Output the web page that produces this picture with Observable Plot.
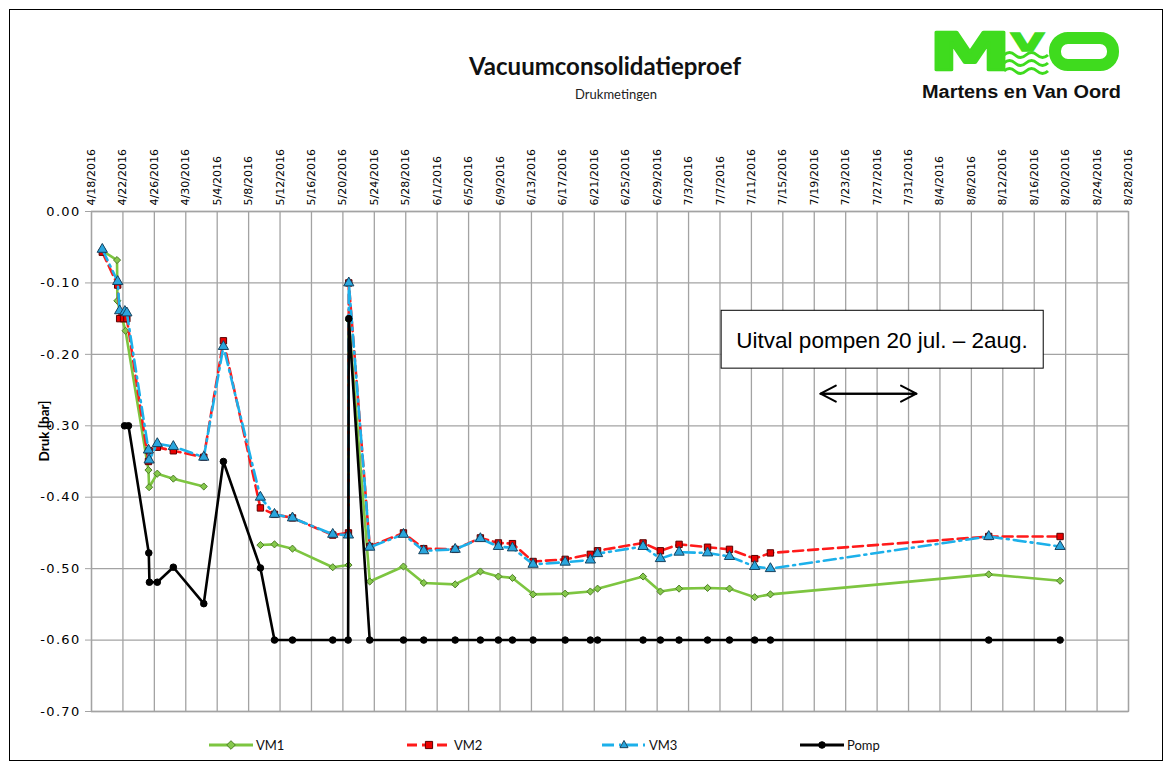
<!DOCTYPE html>
<html>
<head>
<meta charset="utf-8">
<script src="https://cdn.jsdelivr.net/npm/d3@7"></script>
<script src="https://cdn.jsdelivr.net/npm/@observablehq/plot@0.6"></script>
<style>
  body { margin: 0; background: #fff; }
  #wrap { position: relative; width: 1172px; height: 765px; background: #fff; overflow: hidden; }
  #border { position: absolute; left: 9px; top: 9px; width: 1154px; height: 752px; border: 1.5px solid #000; box-sizing: border-box; pointer-events: none; }
  #chart { position: absolute; left: 0; top: 0; }
  .abs { position: absolute; white-space: nowrap; }
  #title { left: 405px; width: 400px; top: 51px; text-align: center; font: bold 24px Lato, "Open Sans", sans-serif; color: #111; }
  #subtitle { left: 516px; width: 200px; top: 86px; text-align: center; font: 13px Lato, "Open Sans", sans-serif; color: #222; }
  #legend { left: 0; top: 735px; width: 1172px; height: 20px; font: 13px Lato, "Open Sans", sans-serif; color: #111; }
  .lg { position: absolute; top: 0; height: 20px; display: flex; align-items: center; }
  .lg svg { display: block; }
  .lg span { margin-left: 3px; }
  g[aria-label="y-axis tick label"] text { letter-spacing: 1.3px; }
</style>
</head>
<body>
<div id="wrap">
  <div id="chart"></div>
  <div id="title" class="abs">Vacuumconsolidatieproef</div>
  <div id="subtitle" class="abs">Drukmetingen</div>
  <svg class="abs" style="left:900px;top:20px" width="250" height="90" viewBox="0 0 250 90">
    <text x="29" y="50" font-family="DejaVu Sans" font-weight="bold" font-size="51" textLength="82" lengthAdjust="spacingAndGlyphs" fill="#3fdb1e" stroke="#3fdb1e" stroke-width="2.5" stroke-linejoin="round">M</text>
    <text x="111" y="31" font-family="DejaVu Sans" font-weight="bold" font-size="24" textLength="33" lengthAdjust="spacingAndGlyphs" fill="#3fdb1e" stroke="#3fdb1e" stroke-width="1.5">V</text>
    <path d="M104 35 q5.5 -5 11 0 t11 0 t11 0 t11 0" fill="none" stroke="#3fdb1e" stroke-width="3"/>
    <path d="M104 43 q5.5 -5 11 0 t11 0 t11 0 t11 0" fill="none" stroke="#3fdb1e" stroke-width="3"/>
    <path d="M104 51 q5.5 -5 11 0 t11 0 t11 0 t11 0" fill="none" stroke="#3fdb1e" stroke-width="3"/>
    <rect x="155" y="18" width="58" height="27" rx="13" ry="13" fill="none" stroke="#3fdb1e" stroke-width="12"/>
    <text x="22" y="78" font-family="Liberation Sans, Arial" font-weight="bold" font-size="18" textLength="199" lengthAdjust="spacingAndGlyphs" fill="#111">Martens en Van Oord</text>
  </svg>
  <div id="legend" class="abs"></div>
  <div id="border"></div>
</div>
<script>
// ---------- data ----------
const xTickDates = ["2016-04-18","2016-04-22","2016-04-26","2016-04-30","2016-05-04","2016-05-08","2016-05-12","2016-05-16","2016-05-20","2016-05-24","2016-05-28","2016-06-01","2016-06-05","2016-06-09","2016-06-13","2016-06-17","2016-06-21","2016-06-25","2016-06-29","2016-07-03","2016-07-07","2016-07-11","2016-07-15","2016-07-19","2016-07-23","2016-07-27","2016-07-31","2016-08-04","2016-08-08","2016-08-12","2016-08-16","2016-08-20","2016-08-24","2016-08-28"];
const yTicks = [0, -0.1, -0.2, -0.3, -0.4, -0.5, -0.6, -0.7];
const yLabel = "Druk [bar]";

const seriesNames = ["VM1", "VM2", "VM3", "Pomp"];

const vm1Dates = ["2016-04-19 09:00","2016-04-21 06:00","2016-04-21 07:00","2016-04-22 08:00","2016-04-25 06:00","2016-04-25 08:00","2016-04-26 09:00","2016-04-28 10:00","2016-05-02 07:00","2016-05-04 19:00","2016-05-09 12:00","2016-05-11 07:00","2016-05-13 14:00","2016-05-18 17:00","2016-05-20 17:00","2016-05-20 18:00","2016-05-23 10:00","2016-05-27 17:00","2016-05-30 07:00","2016-06-03 07:00","2016-06-06 12:00","2016-06-08 19:00","2016-06-10 14:00","2016-06-13 05:00","2016-06-17 07:00","2016-06-20 12:00","2016-06-21 10:00","2016-06-27 05:00","2016-06-29 10:00","2016-07-01 19:00","2016-07-05 10:00","2016-07-08 05:00","2016-07-11 10:00","2016-07-13 10:00","2016-08-10 05:00","2016-08-19 07:00"];
const vm1Values = [-0.055,-0.068,-0.125,-0.167,-0.362,-0.386,-0.367,-0.374,-0.385,null,-0.467,-0.466,-0.472,-0.498,-0.495,-0.152,-0.518,-0.497,-0.520,-0.522,-0.504,-0.511,-0.513,-0.536,-0.535,-0.532,-0.528,-0.511,-0.532,-0.528,-0.527,-0.528,-0.540,-0.536,-0.508,-0.517];

const vm2Dates = ["2016-04-19 09:00","2016-04-21 08:00","2016-04-21 14:00","2016-04-22 02:00","2016-04-22 12:00","2016-04-25 06:00","2016-04-25 08:00","2016-04-26 09:00","2016-04-28 10:00","2016-05-02 07:00","2016-05-04 19:00","2016-05-09 12:00","2016-05-11 07:00","2016-05-13 14:00","2016-05-18 17:00","2016-05-20 17:00","2016-05-20 18:00","2016-05-23 10:00","2016-05-27 17:00","2016-05-30 07:00","2016-06-03 07:00","2016-06-06 12:00","2016-06-08 19:00","2016-06-10 14:00","2016-06-13 05:00","2016-06-17 07:00","2016-06-20 12:00","2016-06-21 10:00","2016-06-27 05:00","2016-06-29 10:00","2016-07-01 19:00","2016-07-05 10:00","2016-07-08 05:00","2016-07-11 10:00","2016-07-13 10:00","2016-08-10 05:00","2016-08-19 07:00"];
const vm2Values = [-0.057,-0.103,-0.150,-0.150,-0.150,-0.350,-0.335,-0.330,-0.335,-0.344,-0.181,-0.415,-0.424,-0.429,-0.453,-0.450,-0.100,-0.469,-0.450,-0.472,-0.473,-0.457,-0.464,-0.465,-0.490,-0.487,-0.480,-0.475,-0.464,-0.475,-0.466,-0.470,-0.473,-0.486,-0.478,-0.455,-0.455];

const vm3Dates = ["2016-04-19 09:00","2016-04-21 08:00","2016-04-21 14:00","2016-04-22 06:00","2016-04-22 12:00","2016-04-25 06:00","2016-04-25 08:00","2016-04-26 09:00","2016-04-28 10:00","2016-05-02 07:00","2016-05-04 19:00","2016-05-09 12:00","2016-05-11 07:00","2016-05-13 14:00","2016-05-18 17:00","2016-05-20 17:00","2016-05-20 18:00","2016-05-23 10:00","2016-05-27 17:00","2016-05-30 07:00","2016-06-03 07:00","2016-06-06 12:00","2016-06-08 19:00","2016-06-10 14:00","2016-06-13 05:00","2016-06-17 07:00","2016-06-20 12:00","2016-06-21 10:00","2016-06-27 05:00","2016-06-29 10:00","2016-07-01 19:00","2016-07-05 10:00","2016-07-08 05:00","2016-07-11 10:00","2016-07-13 10:00","2016-08-10 05:00","2016-08-19 07:00"];
const vm3Values = [-0.053,-0.098,-0.139,-0.140,-0.142,-0.334,-0.348,-0.325,-0.329,-0.344,-0.189,-0.400,-0.424,-0.429,-0.452,-0.453,-0.100,-0.470,-0.452,-0.475,-0.473,-0.458,-0.469,-0.471,-0.494,-0.491,-0.488,-0.479,-0.469,-0.486,-0.477,-0.478,-0.483,-0.497,-0.500,-0.455,-0.469];

const pompDates = ["2016-04-22 05:00","2016-04-22 17:00","2016-04-25 07:00","2016-04-25 09:00","2016-04-26 09:00","2016-04-28 10:00","2016-05-02 07:00","2016-05-04 19:00","2016-05-09 12:00","2016-05-11 07:00","2016-05-13 14:00","2016-05-18 17:00","2016-05-20 16:00","2016-05-20 18:00","2016-05-23 10:00","2016-05-27 17:00","2016-05-30 07:00","2016-06-03 07:00","2016-06-06 12:00","2016-06-08 19:00","2016-06-10 14:00","2016-06-13 05:00","2016-06-17 07:00","2016-06-20 12:00","2016-06-21 10:00","2016-06-27 05:00","2016-06-29 10:00","2016-07-01 19:00","2016-07-05 10:00","2016-07-08 05:00","2016-07-11 10:00","2016-07-13 10:00","2016-08-10 05:00","2016-08-19 07:00"];
const pompValues = [-0.300,-0.300,-0.478,-0.519,-0.519,-0.498,-0.549,-0.350,-0.499,-0.600,-0.600,-0.600,-0.600,-0.150,-0.600,-0.600,-0.600,-0.600,-0.600,-0.600,-0.600,-0.600,-0.600,-0.600,-0.600,-0.600,-0.600,-0.600,-0.600,-0.600,-0.600,-0.600,-0.600,-0.600];

// annotation (text box and double arrow), in data units
const noteText = "Uitval pompen 20 jul. \u2013 2aug.";
const noteBox = {x1: "2016-07-07 05:00", x2: "2016-08-17 05:00", y1: -0.139, y2: -0.220, tx: "2016-07-09 02:00", ty: -0.181};
const outageArrow = {start: "2016-07-19 19:00", end: "2016-08-01 00:00", y: -0.255};

// ---------- styles ----------
const colors = {VM1: "#7dc540", VM2: "#ff1a1a", VM3: "#1cb0ea", Pomp: "#000000"};
const markerStroke = {VM1: "#4d7d27", VM2: "#5a0000", VM3: "#17425e", Pomp: "#000"};
const markerFill = {VM1: "#86c94c", VM2: "#e80000", VM3: "#2aa6dd", Pomp: "#000"};
const symbols = {VM1: "diamond2", VM2: "square", VM3: "triangle", Pomp: "circle"};
const radii = {VM1: 3.2, VM2: 3.6, VM3: 3.8, Pomp: 3.3};
const dashes = {VM1: null, VM2: "10,5", VM3: "12,5,2,5", Pomp: null};

const parseT = d3.utcParse("%Y-%m-%d %H:%M");
const parseD = d3.utcParse("%Y-%m-%d");
const rows = (dates, values) => dates.map((d, i) => ({date: parseT(d), value: values[i]}));
const data = {
  VM1: rows(vm1Dates, vm1Values),
  VM2: rows(vm2Dates, vm2Values),
  VM3: rows(vm3Dates, vm3Values),
  Pomp: rows(pompDates, pompValues)
};
const xTicks = xTickDates.map(parseD);
const fmtDate = d3.utcFormat("%-m/%-d/%Y");

const seriesMarks = seriesNames.flatMap(name => [
  Plot.line(data[name], {x: "date", y: "value", stroke: colors[name], strokeWidth: 2.6, strokeDasharray: dashes[name], strokeLinejoin: "round"}),
  Plot.dot(data[name], {x: "date", y: "value", symbol: symbols[name], r: radii[name], fill: markerFill[name], stroke: markerStroke[name], strokeWidth: 1})
]);

const boxRow = [{x1: parseT(noteBox.x1), x2: parseT(noteBox.x2), y1: noteBox.y1, y2: noteBox.y2, tx: parseT(noteBox.tx), ty: noteBox.ty, text: noteText}];
const arrowRows = [
  {x1: parseT(outageArrow.start), x2: parseT(outageArrow.end), y: outageArrow.y},
  {x1: parseT(outageArrow.end), x2: parseT(outageArrow.start), y: outageArrow.y}
];

const chart = Plot.plot({
  width: 1172,
  height: 765,
  marginLeft: 91,
  marginRight: 44,
  marginTop: 211,
  marginBottom: 54,
  style: {fontFamily: "DejaVu Sans, Verdana, sans-serif", color: "#000", background: "transparent"},
  x: {type: "utc", domain: [xTicks[0], xTicks[xTicks.length - 1]]},
  y: {domain: [-0.7, 0]},
  marks: [
    Plot.gridX({ticks: xTicks, stroke: "#a3a3a3", strokeOpacity: 1, strokeWidth: 1.3}),
    Plot.gridY({ticks: yTicks, stroke: "#a3a3a3", strokeOpacity: 1, strokeWidth: 1.3}),
    Plot.frame({stroke: "#a3a3a3", strokeWidth: 1.3}),
    Plot.axisX({anchor: "top", ticks: xTicks, tickFormat: fmtDate, tickRotate: -90, tickSize: 0, tickPadding: 6, label: null, fontSize: 11}),
    Plot.axisY({ticks: yTicks, tickFormat: d => d.toFixed(2), tickSize: 6, tickPadding: 5, stroke: "#a3a3a3", fontSize: 13, label: null}),
    Plot.text([yLabel], {frameAnchor: "left", dx: -47, rotate: -90, text: d => d, fontWeight: "bold", fontSize: 13.5, fontFamily: "Lato, 'Open Sans', sans-serif", fill: "#000"}),
    ...seriesMarks,
    Plot.rect(boxRow, {x1: "x1", x2: "x2", y1: "y1", y2: "y2", fill: "white", stroke: "black", strokeWidth: 1}),
    Plot.text(boxRow, {x: "tx", y: "ty", text: "text", textAnchor: "start", fontSize: 22.5, fontFamily: "Liberation Sans, Arial, sans-serif", fill: "#000"}),
    Plot.arrow(arrowRows, {x1: "x1", x2: "x2", y1: "y", y2: "y", stroke: "#000", strokeWidth: 2, headLength: 13, headAngle: 55})
  ]
});
document.getElementById("chart").appendChild(chart);

// ---------- legend ----------
const legendPos = {VM1: 209, VM2: 407, VM3: 602, Pomp: 800};
const legend = document.getElementById("legend");
const symPath = {
  VM1: r => `M0,${-r*1.35}L${r*1.35},0L0,${r*1.35}L${-r*1.35},0Z`,
  VM2: r => `M${-r},${-r}h${2*r}v${2*r}h${-2*r}Z`,
  VM3: r => `M0,${-r*1.2}L${r*1.05},${r*0.7}L${-r*1.05},${r*0.7}Z`,
  Pomp: r => null
};
seriesNames.forEach(name => {
  const div = document.createElement("div");
  div.className = "lg";
  div.style.left = legendPos[name] + "px";
  const w = 44;
  const dash = dashes[name] ? `stroke-dasharray="${dashes[name]}"` : "";
  const r = radii[name];
  const marker = name === "Pomp"
    ? `<circle cx="${w/2}" cy="10" r="${r}" fill="${markerFill[name]}" stroke="${markerStroke[name]}"/>`
    : `<path transform="translate(${w/2},10)" d="${symPath[name](r)}" fill="${markerFill[name]}" stroke="${markerStroke[name]}" stroke-width="1"/>`;
  div.innerHTML = `<svg width="${w}" height="20"><line x1="0" x2="${w}" y1="10" y2="10" stroke="${colors[name]}" stroke-width="3" ${dash}/>${marker}</svg><span>${name}</span>`;
  legend.appendChild(div);
});
</script>
</body>
</html>
